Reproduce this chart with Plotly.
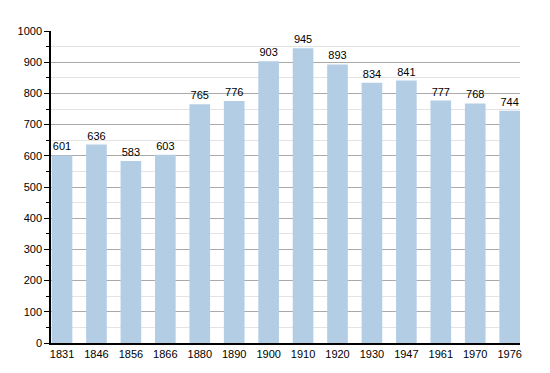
import plotly.graph_objects as go

years = ["1831", "1846", "1856", "1866", "1880", "1890", "1900", "1910", "1920", "1930", "1947", "1961", "1970", "1976"]
population = [601, 636, 583, 603, 765, 776, 903, 945, 893, 834, 841, 777, 768, 744]

fig = go.Figure(go.Bar(
    x=years, y=population,
    marker=dict(color="#b3cde5", line=dict(width=0)),
    text=[str(v) for v in population], textposition="outside",
    textfont=dict(size=11, color="black", family="Liberation Sans, Arial"),
    cliponaxis=False, width=0.6,
))

# page body has an 8px margin; figure sized so plot area lands at x 51..520, y 31..343
fig.update_layout(
    width=542, height=365,
    margin=dict(l=43, r=30, t=23, b=30),
    plot_bgcolor="white", paper_bgcolor="white",
    font=dict(family="Liberation Sans, Arial", size=11, color="black"),
    showlegend=False,
)
fig.update_xaxes(
    type="category", range=[-0.32, 13.3], automargin=False,
    showline=True, linecolor="black", linewidth=1.5,
    ticks="", showgrid=False, tickfont=dict(size=11),
)
fig.update_yaxes(
    range=[0, 1000], dtick=100, automargin=False,
    showline=True, linecolor="black", linewidth=1.5,
    ticks="outside", ticklen=5, tickcolor="black",
    showgrid=True, gridcolor="#aaaaaa", gridwidth=1,
    minor=dict(dtick=50, ticks="outside", ticklen=3, tickcolor="black",
               showgrid=True, gridcolor="#e3e3e3", gridwidth=1),
    zeroline=False, tickfont=dict(size=11),
)

fig.write_html("out.html")
